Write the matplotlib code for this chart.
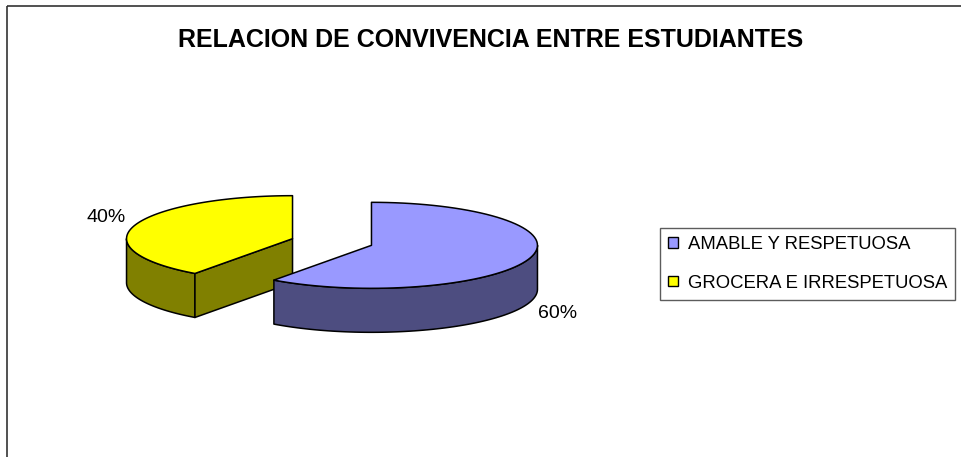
import numpy as np
import matplotlib
matplotlib.use("Agg")
import matplotlib.pyplot as plt
from matplotlib.patches import Polygon, Rectangle

plt.rcParams['font.family'] = ['Liberation Sans', 'DejaVu Sans']

title = "RELACION DE CONVIVENCIA ENTRE ESTUDIANTES"
categories = ["AMABLE Y RESPETUOSA", "GROCERA E IRRESPETUOSA"]
values = [60, 40]
top_colors = ["#9999FF", "#FFFF00"]
side_colors = ["#4D4D80", "#808000"]

# pie geometry in pixel units (axes spans the figure, y down)
cx, cy = 332, 242
rx, ry = 166, 43
depth = 44
explode = 0.25


def pt(c, ang, dz=0):
    a = np.radians(ang)
    return c[0] + rx * np.cos(a), c[1] - ry * np.sin(a) + dz


def arc(c, a0, a1, dz=0, n=80):
    angs = np.linspace(a0, a1, n)
    return [pt(c, a, dz) for a in angs]


fig = plt.figure(figsize=(9.62, 4.57), dpi=100)
ax = fig.add_axes([0, 0, 1, 1])
ax.set_xlim(0, 962)
ax.set_ylim(457, 0)
ax.axis("off")

# outer frame of the chart area
ax.add_patch(Rectangle((7, 6), 1000, 500, fill=False, edgecolor="#333333", lw=1.2))

ax.text(491, 40, title, ha="center", va="center", fontsize=18, fontweight="bold")

# slice angle ranges, start at 12 o'clock going clockwise
total = sum(values)
slices = []
start = 90.0
for i, v in enumerate(values):
    sweep = 360.0 * v / total
    a1 = start
    a0 = start - sweep
    if a0 < -180:
        a0 += 360
        a1 += 360
    mid = (a0 + a1) / 2
    m = np.radians(mid)
    c = (cx + explode * rx * np.cos(m), cy - explode * ry * np.sin(m))
    slices.append((i, a0, a1, mid, c))
    start = a0

# back slices first
order = sorted(slices, key=lambda s: -np.sin(np.radians(s[3])))
for i, a0, a1, mid, c in order:
    kw = dict(edgecolor="black", lw=1.1, joinstyle="round")
    # outer wall (front half only)
    for k in (-1, 0, 1):
        lo = max(a0, 180 + 360 * k)
        hi = min(a1, 360 + 360 * k)
        if lo < hi:
            poly = arc(c, lo, hi) + arc(c, hi, lo, depth)
            ax.add_patch(Polygon(poly, closed=True, facecolor=side_colors[i], **kw))
    # radial faces
    if np.cos(np.radians(a0)) > 1e-6:
        p = pt(c, a0)
        poly = [c, p, (p[0], p[1] + depth), (c[0], c[1] + depth)]
        ax.add_patch(Polygon(poly, closed=True, facecolor=side_colors[i], **kw))
    if np.cos(np.radians(a1)) < -1e-6:
        p = pt(c, a1)
        poly = [c, p, (p[0], p[1] + depth), (c[0], c[1] + depth)]
        ax.add_patch(Polygon(poly, closed=True, facecolor=side_colors[i], **kw))
    # top face
    poly = [c] + arc(c, a0, a1)
    ax.add_patch(Polygon(poly, closed=True, facecolor=top_colors[i], **kw))

    # percentage label
    m = np.radians(mid)
    lx = c[0] + 1.18 * rx * np.cos(m)
    ly = c[1] - 1.6 * ry * np.sin(m)
    if np.sin(m) < 0:
        ly += depth + 3
    ax.text(lx, ly, f"{values[i] / total:.0%}", ha="center", va="center", fontsize=14)

# legend
handles = [Rectangle((0, 0), 1, 1, facecolor=top_colors[i], edgecolor="black", lw=1)
           for i in range(len(categories))]
leg = ax.legend(handles, categories, loc="upper left", bbox_to_anchor=(660 / 962, 1 - 228 / 457),
                frameon=True, fancybox=False, fontsize=13.3, handlelength=0.5, handleheight=0.5,
                handletextpad=0.55, labelspacing=1.15, borderpad=0.45, borderaxespad=0)
leg.get_frame().set_edgecolor("#333333")
leg.get_frame().set_linewidth(1.0)

fig.savefig("out.png", dpi=100)
